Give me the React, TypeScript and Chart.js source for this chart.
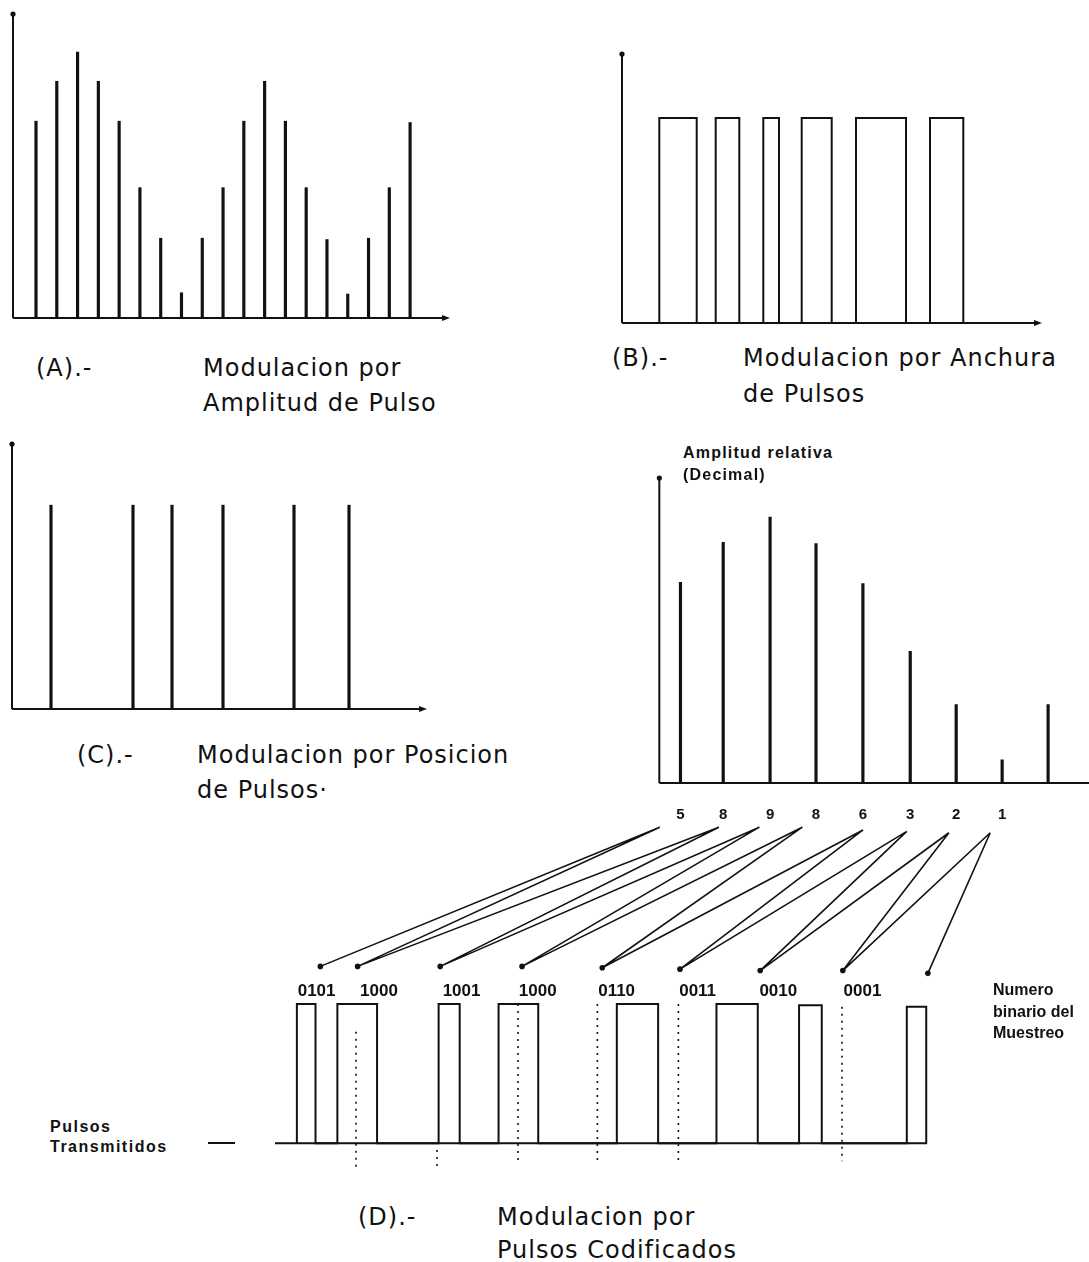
import React, { useEffect, useRef } from "react";
import { Chart, registerables } from "chart.js";

Chart.register(...registerables);

// ---------------- DATA ----------------
// (A) Modulacion por Amplitud de Pulso
const pamSampleIndex = [1, 2, 3, 4, 5, 6, 7, 8, 9, 10, 11, 12, 13, 14, 15, 16, 17, 18, 19];
const pamAmplitude = [7.4, 8.9, 10, 8.9, 7.4, 4.9, 3.0, 0.95, 3.0, 4.9, 7.4, 8.9, 7.4, 4.9, 2.95, 0.9, 3.0, 4.9, 7.35];

// (B) Modulacion por Anchura de Pulsos
const pwmStart = [3.73, 9.37, 14.13, 17.97, 23.4, 30.8];
const pwmEnd = [7.47, 11.73, 15.7, 20.97, 28.4, 34.13];
const pwmLevel = [1, 1, 1, 1, 1, 1];

// (C) Modulacion por Posicion de Pulsos
const ppmPosition = [3.9, 12.1, 16.0, 21.1, 28.2, 33.7];
const ppmLevel = [1, 1, 1, 1, 1, 1];

// (D) Modulacion por Pulsos Codificados - muestras
const pcmSampleX = [0.46, 1.39, 2.41, 3.41, 4.43, 5.46, 6.46, 7.46, 8.46];
const pcmAmplitude = [7.55, 9.05, 10, 9, 7.5, 4.95, 2.95, 0.87, 2.95];
const pcmDecimalLabels = ["5", "8", "9", "8", "6", "3", "2", "1"];

// (D) codigos binarios transmitidos
const pcmBinaryLabels = ["0101", "1000", "1001", "1000", "0110", "0011", "0010", "0001"];
const codeLabelX = [0.28, 1.05, 2.07, 3.01, 3.99, 4.99, 5.98, 7.02];
const codeLabelY = 1.09;
const codePulseStart = [0.27, 0.77, 2.02, 2.76, 4.22, 5.45, 6.47, 7.8];
const codePulseEnd = [0.5, 1.26, 2.28, 3.25, 4.73, 5.96, 6.75, 8.04];
const codePulseLevel = [1, 1, 1, 1, 1, 1, 0.99, 0.98];
const codeBaselineEnd = 8.05;

// lineas de correspondencia decimal -> binario
const fanApexX = [4.75, 5.48, 5.98, 6.51, 7.26, 7.8, 8.32, 8.83];
const fanApexY = [2.27, 2.27, 2.27, 2.27, 2.25, 2.24, 2.23, 2.23];
const fanDotX = [0.56, 1.02, 2.04, 3.05, 4.04, 5.0, 5.99, 7.01, 8.06];
const fanDotY = [1.27, 1.27, 1.27, 1.27, 1.26, 1.25, 1.24, 1.24, 1.22];
const fanLinkFrom = [0, 0, 1, 1, 2, 2, 3, 3, 4, 4, 5, 5, 6, 6, 7, 7];
const fanLinkTo = [0, 1, 1, 2, 2, 3, 3, 4, 4, 5, 5, 6, 6, 7, 7, 8];

// marcas punteadas de trama
const frameMarkX = [1.0, 2.0, 3.0, 3.98, 4.98, 7.0];
const frameMarkTop = [0.8, -0.05, 1.0, 1.0, 1.0, 0.98];
const frameMarkBottom = [-0.2, -0.2, -0.13, -0.13, -0.13, -0.13];

// ---------------- STYLE ----------------
const INK = "#111111";

type AxesCfg = {
  xFrom?: number;
  xTo?: number;
  yAxis: boolean;
  dot: boolean;
  arrow: boolean;
  width?: number;
};

function makeAxesPlugin(cfg: AxesCfg) {
  return {
    id: "panelAxes",
    afterDatasetsDraw(chart: any) {
      const { ctx } = chart;
      const xs = chart.scales.x;
      const ys = chart.scales.y;
      const x0 = xs.getPixelForValue(cfg.xFrom ?? xs.min);
      const x1 = xs.getPixelForValue(cfg.xTo ?? xs.max);
      const y0 = ys.getPixelForValue(0);
      const yTop = ys.getPixelForValue(ys.max);
      ctx.save();
      ctx.strokeStyle = INK;
      ctx.fillStyle = INK;
      ctx.lineWidth = cfg.width ?? 2;
      ctx.beginPath();
      ctx.moveTo(x0, y0);
      ctx.lineTo(cfg.arrow ? x1 - 4 : x1, y0);
      ctx.stroke();
      if (cfg.arrow) {
        ctx.beginPath();
        ctx.moveTo(x1, y0);
        ctx.lineTo(x1 - 8, y0 - 3);
        ctx.lineTo(x1 - 8, y0 + 3);
        ctx.closePath();
        ctx.fill();
      }
      if (cfg.yAxis) {
        ctx.beginPath();
        ctx.moveTo(x0, y0);
        ctx.lineTo(x0, yTop);
        ctx.stroke();
        if (cfg.dot) {
          ctx.beginPath();
          ctx.arc(x0, yTop, 2.6, 0, Math.PI * 2);
          ctx.fill();
        }
      }
      ctx.restore();
    },
  };
}

const codeLabelsPlugin = {
  id: "codeLabels",
  afterDatasetsDraw(chart: any) {
    const { ctx } = chart;
    const xs = chart.scales.x;
    const ys = chart.scales.y;
    ctx.save();
    ctx.fillStyle = INK;
    ctx.font = 'bold 17px "Liberation Sans", Arial, sans-serif';
    ctx.textAlign = "left";
    ctx.textBaseline = "middle";
    pcmBinaryLabels.forEach((t, i) => {
      ctx.fillText(t, xs.getPixelForValue(codeLabelX[i]), ys.getPixelForValue(codeLabelY));
    });
    ctx.restore();
  },
};

function baseOptions(xMin: number, xMax: number, yMin: number, yMax: number, padding: any) {
  return {
    responsive: false,
    maintainAspectRatio: false,
    animation: false,
    devicePixelRatio: 1,
    events: [],
    layout: { padding },
    plugins: { legend: { display: false }, tooltip: { enabled: false }, title: { display: false } },
    scales: {
      x: { type: "linear", min: xMin, max: xMax, display: false, offset: false },
      y: { type: "linear", min: yMin, max: yMax, display: false },
    },
  } as any;
}

function thinBars(xs: number[], ys: number[]) {
  return {
    type: "bar",
    data: xs.map((x, i) => ({ x, y: ys[i] })),
    backgroundColor: INK,
    borderWidth: 0,
    barThickness: 2.5,
  } as any;
}

function pulseTrain(starts: number[], ends: number[], levels: number[], width = 2) {
  const pts: any[] = [];
  starts.forEach((s, i) => {
    pts.push({ x: s, y: 0 }, { x: s, y: levels[i] }, { x: ends[i], y: levels[i] }, { x: ends[i], y: 0 });
  });
  return {
    type: "line",
    data: pts,
    borderColor: INK,
    borderWidth: width,
    pointRadius: 0,
    tension: 0,
    fill: false,
  } as any;
}

// ---------------- CHART CONFIGS ----------------
function configA() {
  return {
    type: "bar",
    data: { datasets: [thinBars(pamSampleIndex, pamAmplitude)] },
    options: baseOptions(-0.107, 20.92, 0, 11.43, 6),
    plugins: [makeAxesPlugin({ yAxis: true, dot: true, arrow: true })],
  } as any;
}

function configB() {
  return {
    type: "line",
    data: { datasets: [pulseTrain(pwmStart, pwmEnd, pwmLevel)] },
    options: baseOptions(0, 42, 0, 1.312, 6),
    plugins: [makeAxesPlugin({ yAxis: true, dot: true, arrow: true })],
  } as any;
}

function configC() {
  return {
    type: "bar",
    data: { datasets: [thinBars(ppmPosition, ppmLevel)] },
    options: baseOptions(0, 41.5, 0, 1.3, 6),
    plugins: [makeAxesPlugin({ yAxis: true, dot: true, arrow: true })],
  } as any;
}

function configDTop() {
  const opts = baseOptions(0, 9.35, 0, 11.47, { left: 6, top: 6, right: 0, bottom: 0 });
  opts.scales.x = {
    type: "linear",
    min: 0,
    max: 9.35,
    offset: false,
    display: true,
    grid: { display: false, drawTicks: false },
    border: { display: false },
    ticks: {
      autoSkip: false,
      maxRotation: 0,
      padding: 23,
      color: INK,
      font: { family: '"Liberation Sans", Arial, sans-serif', weight: "bold", size: 15 },
      callback: (_v: any, i: number) => pcmDecimalLabels[i] ?? "",
    },
    afterBuildTicks: (s: any) => {
      s.ticks = pcmSampleX.slice(0, pcmDecimalLabels.length).map((v) => ({ value: v }));
    },
    afterFit: (s: any) => {
      s.height = 45;
    },
  };
  return {
    type: "bar",
    data: { datasets: [thinBars(pcmSampleX, pcmAmplitude)] },
    options: opts,
    plugins: [makeAxesPlugin({ yAxis: true, dot: true, arrow: false })],
  } as any;
}

function configDBottom() {
  const fanPts: any[] = [];
  fanLinkFrom.forEach((a, i) => {
    const b = fanLinkTo[i];
    fanPts.push({ x: fanApexX[a], y: fanApexY[a] }, { x: fanDotX[b], y: fanDotY[b] }, { x: fanDotX[b], y: null });
  });
  const markPts: any[] = [];
  frameMarkX.forEach((x, i) => {
    markPts.push({ x, y: frameMarkTop[i] }, { x, y: frameMarkBottom[i] }, { x, y: null });
  });
  return {
    type: "line",
    data: {
      datasets: [
        pulseTrain(codePulseStart, codePulseEnd, codePulseLevel, 2),
        {
          type: "line",
          data: fanPts,
          borderColor: INK,
          borderWidth: 1.6,
          pointRadius: 0,
          tension: 0,
          spanGaps: false,
        },
        {
          type: "line",
          data: fanDotX.map((x, i) => ({ x, y: fanDotY[i] })),
          showLine: false,
          pointRadius: 2.8,
          pointBackgroundColor: INK,
          pointBorderWidth: 0,
        },
        {
          type: "line",
          data: markPts,
          borderColor: INK,
          borderWidth: 1.6,
          borderDash: [2, 5],
          pointRadius: 0,
          tension: 0,
          spanGaps: false,
        },
      ],
    },
    options: baseOptions(0, 9, -0.2, 2.3, 6),
    plugins: [
      makeAxesPlugin({ xFrom: 0, xTo: codeBaselineEnd, yAxis: false, dot: false, arrow: false }),
      codeLabelsPlugin,
    ],
  } as any;
}

// ---------------- COMPONENTS ----------------
function Panel(props: { left: number; top: number; width: number; height: number; make: () => any }) {
  const ref = useRef<HTMLCanvasElement | null>(null);
  useEffect(() => {
    if (!ref.current) return;
    const chart = new Chart(ref.current, props.make());
    return () => chart.destroy();
  }, []);
  return (
    <canvas
      ref={ref}
      width={props.width}
      height={props.height}
      style={{ position: "absolute", left: props.left, top: props.top, width: props.width, height: props.height }}
    />
  );
}

const titleStyle: React.CSSProperties = {
  position: "absolute",
  fontFamily: '"DejaVu Sans", sans-serif',
  fontSize: 24,
  letterSpacing: "1px",
  lineHeight: "28px",
  color: INK,
  whiteSpace: "nowrap",
};

const smallStyle: React.CSSProperties = {
  position: "absolute",
  fontFamily: '"Liberation Sans", Arial, sans-serif',
  fontWeight: "bold",
  fontSize: 16,
  lineHeight: "20px",
  color: INK,
  whiteSpace: "nowrap",
};

const titles: [string, number, number][] = [
  ["(A).-", 36, 354],
  ["Modulacion por", 203, 354],
  ["Amplitud de Pulso", 203, 389],
  ["(B).-", 612, 344],
  ["Modulacion por Anchura", 743, 344],
  ["de Pulsos", 743, 380],
  ["(C).-", 77, 741],
  ["Modulacion por Posicion", 197, 741],
  ["de Pulsos·", 197, 776],
  ["(D).-", 358, 1203],
  ["Modulacion por", 497, 1203],
  ["Pulsos Codificados", 497, 1236],
];

const smallLabels: [string, number, number, number][] = [
  ["Amplitud relativa", 683, 443, 1.2],
  ["(Decimal)", 683, 465, 1.2],
  ["Numero", 993, 980, 0],
  ["binario del", 993, 1002, 0],
  ["Muestreo", 993, 1023, 0],
  ["Pulsos", 50, 1117, 1.5],
  ["Transmitidos", 50, 1137, 1.5],
];

export default function App() {
  return (
    <div
      style={{
        position: "absolute",
        left: 0,
        top: 0,
        width: 1089,
        height: 1262,
        overflow: "hidden",
        background: "#ffffff",
      }}
    >
      <Panel left={7} top={8} width={449} height={316} make={configA} />
      <Panel left={616} top={48} width={432} height={281} make={configB} />
      <Panel left={6} top={438} width={427} height={277} make={configC} />
      <Panel left={653} top={472} width={436} height={356} make={configDTop} />
      <Panel left={269} top={817} width={741} height={360} make={configDBottom} />
      {titles.map(([t, l, tp]) => (
        <div key={t + l + tp} style={{ ...titleStyle, left: l, top: tp }}>
          {t}
        </div>
      ))}
      {smallLabels.map(([t, l, tp, ls]) => (
        <div key={t + l + tp} style={{ ...smallStyle, left: l, top: tp, letterSpacing: ls + "px" }}>
          {t}
        </div>
      ))}
      <div style={{ position: "absolute", left: 208, top: 1142, width: 27, height: 2, background: INK }} />
    </div>
  );
}
